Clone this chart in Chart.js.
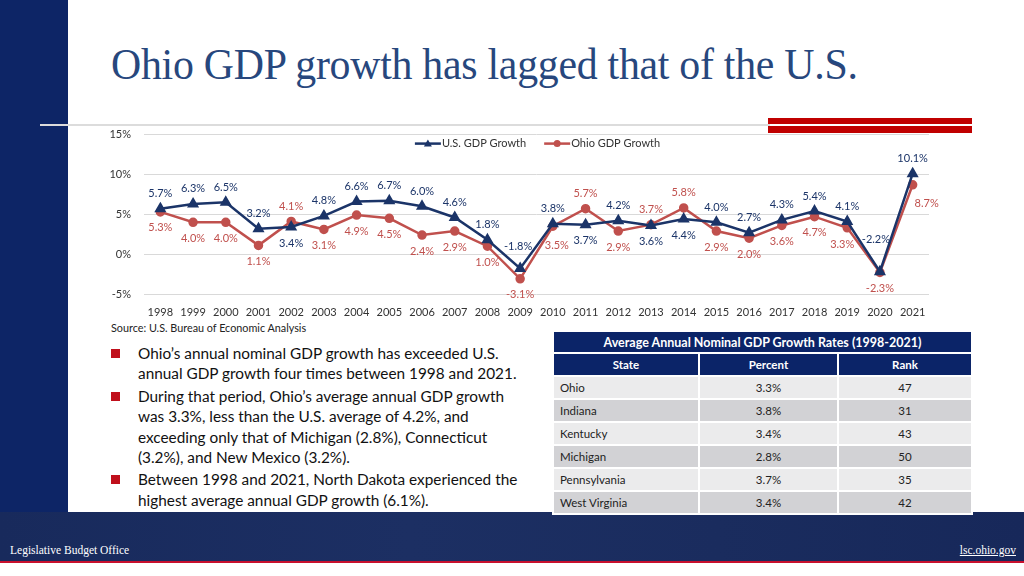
<!DOCTYPE html>
<html>
<head>
<meta charset="utf-8">
<script src="https://cdn.jsdelivr.net/npm/chart.js@4.4.1/dist/chart.umd.min.js"></script>
<style>
  html, body { margin: 0; padding: 0; }
  body { width: 1024px; height: 576px; position: relative; overflow: hidden; background: #fff; font-family: Lato, "Open Sans", sans-serif; }
  #sidebar { position: absolute; left: 0; top: 0; width: 68px; height: 512px; background: #0d2566; }
  #title { position: absolute; left: 111px; top: 38px; font-family: "Liberation Serif", serif; font-size: 45px; color: #27477d; white-space: nowrap; transform: scaleX(0.93); transform-origin: left top; letter-spacing: -0.3px; }
  #rule { position: absolute; left: 40px; top: 124px; width: 730px; height: 2px; background: #dcdcdc; }
  #red1 { position: absolute; left: 768px; top: 118px; width: 204px; height: 6px; background: #c00000; }
  #red2 { position: absolute; left: 768px; top: 126px; width: 204px; height: 7px; background: #c00000; }
  #chartBox { position: absolute; left: 100px; top: 115px; width: 840px; height: 205px; }
  #source { position: absolute; left: 111px; top: 321px; font-size: 10.8px; color: #222; }
  #bullets { position: absolute; left: 111px; top: 343px; width: 409px; margin: 0; padding: 0; list-style: none; font-size: 15.35px; line-height: 20.4px; color: #111; }
  #bullets li { position: relative; padding-left: 27px; margin-bottom: 2px; }
  #bullets li:before { content: ""; position: absolute; left: 0; top: 6px; width: 9px; height: 9px; background: #c0101c; }
  #tbl { position: absolute; left: 552px; top: 330px; width: 421px; border-collapse: collapse; font-size: 11.5px; color: #222; z-index: 2; }
  #tbl td, #tbl th { border: 2px solid #fff; height: 21px; padding: 0 6px; }
  #tbl .cap { background: #0b2468; color: #fff; font-size: 12.5px; font-weight: bold; height: 20px; }
  #tbl .head th { background: #0b2468; color: #fff; font-weight: bold; height: 21px; }
  #tbl tr.l td { background: #ebebec; }
  #tbl tr.d td { background: #d2d2d5; }
  #tbl td.c { text-align: center; }
  #footer { position: absolute; left: 0; top: 512px; width: 1024px; height: 49px; background: linear-gradient(90deg, #182a5c, #1c2f63 40%, #1a2c5e 70%, #17285a); }
  #redline { position: absolute; left: 0; top: 561px; width: 1024px; height: 2px; background: #c8102e; }
  .foot { position: absolute; top: 544px; font-family: "Liberation Serif", serif; font-size: 11.5px; color: #fff; }
</style>
</head>
<body>
<div id="sidebar"></div>
<div id="title">Ohio GDP growth has lagged that of the U.S.</div>
<div id="rule"></div>
<div id="red1"></div>
<div id="red2"></div>
<div id="chartBox"><canvas id="gdp"></canvas></div>
<div id="source">Source: U.S. Bureau of Economic Analysis</div>
<ul id="bullets">
  <li>Ohio’s annual nominal GDP growth has exceeded U.S. annual GDP growth four times between 1998 and 2021.</li>
  <li>During that period, Ohio’s average annual GDP growth was 3.3%, less than the U.S. average of 4.2%, and exceeding only that of Michigan (2.8%), Connecticut (3.2%), and New Mexico (3.2%).</li>
  <li>Between 1998 and 2021, North Dakota experienced the highest average annual GDP growth (6.1%).</li>
</ul>
<div id="footer"></div>
<div id="redline"></div>
<table id="tbl"></table>
<div class="foot" style="left:10px">Legislative Budget Office</div>
<div class="foot" style="right:8px;text-decoration:underline">lsc.ohio.gov</div>

<script>
// chart data
var years = ['1998','1999','2000','2001','2002','2003','2004','2005','2006','2007','2008','2009',
             '2010','2011','2012','2013','2014','2015','2016','2017','2018','2019','2020','2021'];
var usGrowth   = [5.7, 6.3, 6.5, 3.2, 3.4, 4.8, 6.6, 6.7, 6.0, 4.6, 1.8, -1.8,
                  3.8, 3.7, 4.2, 3.6, 4.4, 4.0, 2.7, 4.3, 5.4, 4.1, -2.2, 10.1];
var ohioGrowth = [5.3, 4.0, 4.0, 1.1, 4.1, 3.1, 4.9, 4.5, 2.4, 2.9, 1.0, -3.1,
                  3.5, 5.7, 2.9, 3.7, 5.8, 2.9, 2.0, 3.6, 4.7, 3.3, -2.3, 8.7];
var yTicks = [-5, 0, 5, 10, 15];

// table data
var tblTitle = 'Average Annual Nominal GDP Growth Rates (1998-2021)';
var tblCols = ['State', 'Percent', 'Rank'];
var tblStates = ['Ohio', 'Indiana', 'Kentucky', 'Michigan', 'Pennsylvania', 'West Virginia'];
var tblPercents = ['3.3%', '3.8%', '3.4%', '2.8%', '3.7%', '3.4%'];
var tblRanks = ['47', '31', '43', '50', '35', '42'];

// where each data label sits relative to its point
var usLabelPos   = ['a','a','a','a','b','a','a','a','a','a','a','a2','a','b','a','b','b','a','a','a','a','a','a3','a'];
var ohioLabelPos = ['b','b','b','b','a','b','b','b','b','b','b','b','bR','a','b','a','a','b','b','b','b','bL','b','br'];

var NAVY = '#1b3468', RED = '#c0504d';

/* ── table ── */
(function () {
  var t = document.getElementById('tbl');
  var html = '<tr><th class="cap" colspan="3">' + tblTitle + '</th></tr><tr class="head">';
  tblCols.forEach(function (c) { html += '<th>' + c + '</th>'; });
  html += '</tr>';
  tblStates.forEach(function (s, i) {
    html += '<tr class="' + (i % 2 ? 'd' : 'l') + '"><td style="width:132px">' + s + '</td><td class="c" style="width:125px">' +
      tblPercents[i] + '</td><td class="c">' + tblRanks[i] + '</td></tr>';
  });
  t.innerHTML = html;
}());

/* ── data labels + legend (drawn by hand) ── */
var OFFS = { a: [0, -15], a2: [-2, -22], a3: [-4, -32], b: [0, 16], bR: [4, 19], bL: [-5, 17], br: [14, 19] };

var labelPlugin = {
  id: 'gdpLabels',
  afterDatasetsDraw: function (chart) {
    var ctx = chart.ctx;
    ctx.save();
    ctx.font = '11px Lato, "Open Sans", sans-serif';
    ctx.textAlign = 'center'; ctx.textBaseline = 'middle';
    chart.data.datasets.forEach(function (ds, di) {
      var pos = di === 0 ? usLabelPos : ohioLabelPos;
      chart.getDatasetMeta(di).data.forEach(function (pt, i) {
        var o = OFFS[pos[i]];
        ctx.fillStyle = ds.borderColor;
        ctx.fillText(ds.data[i].toFixed(1) + '%', pt.x + o[0], pt.y + o[1]);
      });
    });
    // legend: line + marker + text
    var ca = chart.chartArea, cx = (ca.left + ca.right) / 2, y = ca.top + 9;
    ctx.textAlign = 'left';
    ctx.font = '11px Lato, "Open Sans", sans-serif';
    var items = chart.data.datasets;
    var w0 = ctx.measureText(items[0].label).width, w1 = ctx.measureText(items[1].label).width;
    var seg = 26, gap = 18, total = seg + w0 + gap + seg + w1;
    var x = cx - total / 2;
    items.forEach(function (ds, k) {
      ctx.strokeStyle = ds.borderColor; ctx.lineWidth = 2.5;
      ctx.beginPath(); ctx.moveTo(x, y); ctx.lineTo(x + seg, y); ctx.stroke();
      ctx.fillStyle = ds.borderColor;
      ctx.beginPath();
      if (ds.pointStyle === 'triangle') {
        ctx.moveTo(x + seg / 2, y - 4); ctx.lineTo(x + seg / 2 + 4, y + 3); ctx.lineTo(x + seg / 2 - 4, y + 3);
      } else {
        ctx.arc(x + seg / 2, y, 3.5, 0, Math.PI * 2);
      }
      ctx.fill();
      ctx.fillStyle = '#333';
      ctx.fillText(ds.label, x + seg + 1, y);
      x += seg + 1 + (k === 0 ? w0 : w1) + gap;
    });
    ctx.restore();
  }
};

new Chart(document.getElementById('gdp'), {
  type: 'line',
  data: {
    labels: years,
    datasets: [
      { label: 'U.S. GDP Growth', data: usGrowth, borderColor: NAVY, backgroundColor: NAVY,
        borderWidth: 2.5, pointStyle: 'triangle', pointRadius: 4.5, tension: 0 },
      { label: 'Ohio GDP Growth', data: ohioGrowth, borderColor: RED, backgroundColor: RED,
        borderWidth: 2.5, pointStyle: 'circle', pointRadius: 3.5, tension: 0 }
    ]
  },
  options: {
    responsive: true, maintainAspectRatio: false, animation: false,
    layout: { padding: { top: 9, right: 11, left: 0, bottom: 0 } },
    plugins: { legend: { display: false }, tooltip: { enabled: false } },
    scales: {
      x: {
        offset: true,
        grid: { display: false }, border: { display: false },
        ticks: { color: '#333', font: { size: 11, family: 'Lato' }, padding: 4, maxRotation: 0, autoSkip: false },
        afterFit: function (s) { s.height = 26; }
      },
      y: {
        min: yTicks[0], max: yTicks[yTicks.length - 1],
        afterBuildTicks: function (s) { s.ticks = yTicks.map(function (v) { return { value: v }; }); },
        grid: { color: '#d9d9d9', drawTicks: false }, border: { display: false },
        ticks: { color: '#333', font: { size: 11, family: 'Lato' }, padding: 13, callback: function (v) { return v + '%'; } },
        afterFit: function (s) { s.width = 44; }
      }
    }
  },
  plugins: [labelPlugin]
});
</script>
</body>
</html>
